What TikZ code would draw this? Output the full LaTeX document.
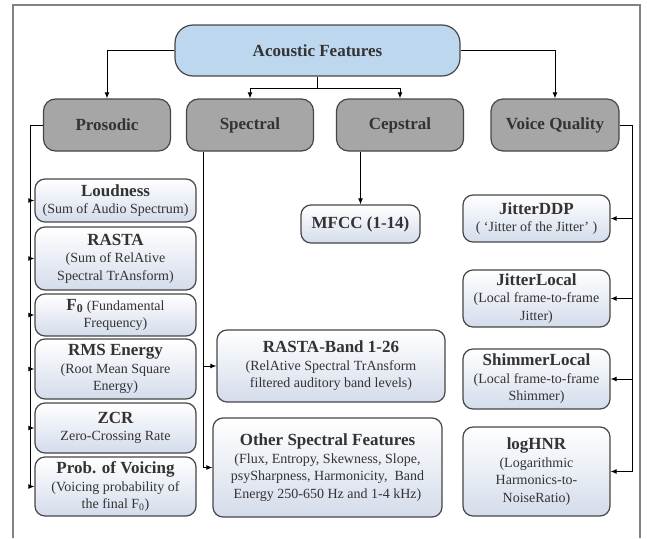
\documentclass[tikz,border=0pt]{standalone}
\usepackage{fontspec}
\setmainfont{Liberation Serif}
\usetikzlibrary{arrows.meta}
\definecolor{rootblue}{RGB}{189,215,238}
\definecolor{catgray}{RGB}{166,166,166}
\definecolor{leafblue}{RGB}{212,220,235}
\definecolor{edgegray}{RGB}{70,70,70}
\definecolor{framegray}{RGB}{130,130,130}
\newcommand{\ttl}[1]{{\fontsize{17}{19}\selectfont\bfseries #1}}
\newcommand{\tapEdge}[3]{
  \draw[->] (#1 |- #2.#3) -- (#2.#3);
}

\begin{document}
\begin{tikzpicture}[x=1pt, y=-1pt, line width=1pt, >={Latex[length=6pt,width=5pt]},
  box/.style={draw=edgegray, line width=1.2pt, rounded corners=10pt, align=center,
    inner sep=2pt, text=black!80, font=\fontsize{14}{17.5}\selectfont},
  root/.style={box, fill=rootblue, rounded corners=18pt, minimum width=285, minimum height=51},
  cat/.style={box, fill=catgray, rounded corners=12pt, minimum width=127, minimum height=52},
  leaf/.style={box, top color=white, bottom color=leafblue}]
  \useasboundingbox (0,0) rectangle (647,538);
  \draw[framegray, line width=1.5pt] (13,538) -- (13,5) -- (640,5) -- (640,538);

  % Nodes
  \node[root] (acoustic) at (317.5,50.5) {\ttl{Acoustic Features}};
  \node[cat] (prosodic) at (107,125) {\ttl{Prosodic}};
  \node[cat] (spectral) at (250,125) {\ttl{Spectral}};
  \node[cat] (cepstral) at (400,125) {\ttl{Cepstral}};
  \node[cat, minimum width=128] (voice) at (555,125) {\ttl{Voice Quality}};

  % Prosodic
  \node[leaf, minimum width=161, minimum height=43] (loudness) at (115.5,200.5)
    {\ttl{Loudness}\\(Sum of Audio Spectrum)};
  \node[leaf, minimum width=161, minimum height=63] (rasta) at (115.5,258.5)
    {\ttl{RASTA}\\(Sum of RelAtive\\Spectral TrAnsform)};
  \node[leaf, minimum width=161, minimum height=42] (fzero) at (115.5,315)
    {\ttl{F\textsubscript{0}} (Fundamental\\Frequency)};
  \node[leaf, minimum width=161, minimum height=60] (rms) at (115.5,369)
    {\ttl{RMS Energy}\\(Root Mean Square\\Energy)};
  \node[leaf, minimum width=161, minimum height=50] (zcr) at (115.5,428)
    {\ttl{ZCR}\\Zero-Crossing Rate};
  \node[leaf, minimum width=161, minimum height=59] (voicing) at (115.5,486.5)
    {\ttl{Prob. of Voicing}\\(Voicing probability of\\the final F\textsubscript{0})};

  % Spectral and cepstral
  \node[leaf, minimum width=119, minimum height=38] (mfcc) at (360.5,224)
    {\ttl{MFCC (1-14)}};
  \node[leaf, minimum width=228, minimum height=72] (rastaband) at (331,366)
    {\ttl{RASTA-Band 1-26}\\(RelAtive Spectral TrAnsform\\filtered auditory band levels)};
  \node[leaf, minimum width=229, minimum height=99] (otherspec) at (327.5,467.5)
    {\ttl{Other Spectral Features}\\(Flux, Entropy, Skewness, Slope,\\psySharpness, Harmonicity,~ Band\\Energy 250-650 Hz and 1-4 kHz)};

  % Voice quality
  \node[leaf, minimum width=147, minimum height=47] (jitterddp) at (536.5,218.5)
    {\ttl{JitterDDP}\\(~`Jitter of the Jitter'~)};
  \node[leaf, minimum width=147, minimum height=57] (jitterlocal) at (536.5,298.5)
    {\ttl{JitterLocal}\\(Local frame-to-frame\\Jitter)};
  \node[leaf, minimum width=147, minimum height=60] (shimmer) at (536.5,379)
    {\ttl{ShimmerLocal}\\(Local frame-to-frame\\Shimmer)};
  \node[leaf, minimum width=147, minimum height=89] (loghnr) at (536.5,471.5)
    {\ttl{logHNR}\\(Logarithmic\\Harmonics-to-\\NoiseRatio)};

  % Edges
  \draw[->] (acoustic.west) -| (prosodic.north);
  \draw[->] (acoustic.east) -| (voice.north);
  \draw (acoustic.south) -- ++(0,12) coordinate (split);
  \draw[->] (split) -| (spectral.north);
  \draw[->] (split) -| (cepstral.north);
  \draw[->] (mfcc.north |- cepstral.south) -- (mfcc.north);

  \coordinate (pbus) at (30,0);
  \coordinate (sbus) at (203,0);
  \coordinate (vbus) at (632,0);
  \draw (prosodic.west) -| (pbus |- voicing.west);
  \draw (sbus |- spectral.south) -- (sbus |- otherspec.west);
  \draw (voice.east) -| (vbus |- loghnr.east);

  \tapEdge{pbus}{loudness}{west}
  \tapEdge{pbus}{rasta}{west}
  \tapEdge{pbus}{fzero}{west}
  \tapEdge{pbus}{rms}{west}
  \tapEdge{pbus}{zcr}{west}
  \tapEdge{pbus}{voicing}{west}
  \tapEdge{sbus}{rastaband}{west}
  \tapEdge{sbus}{otherspec}{west}
  \tapEdge{vbus}{jitterddp}{east}
  \tapEdge{vbus}{jitterlocal}{east}
  \tapEdge{vbus}{shimmer}{east}
  \tapEdge{vbus}{loghnr}{east}
\end{tikzpicture}
\end{document}
